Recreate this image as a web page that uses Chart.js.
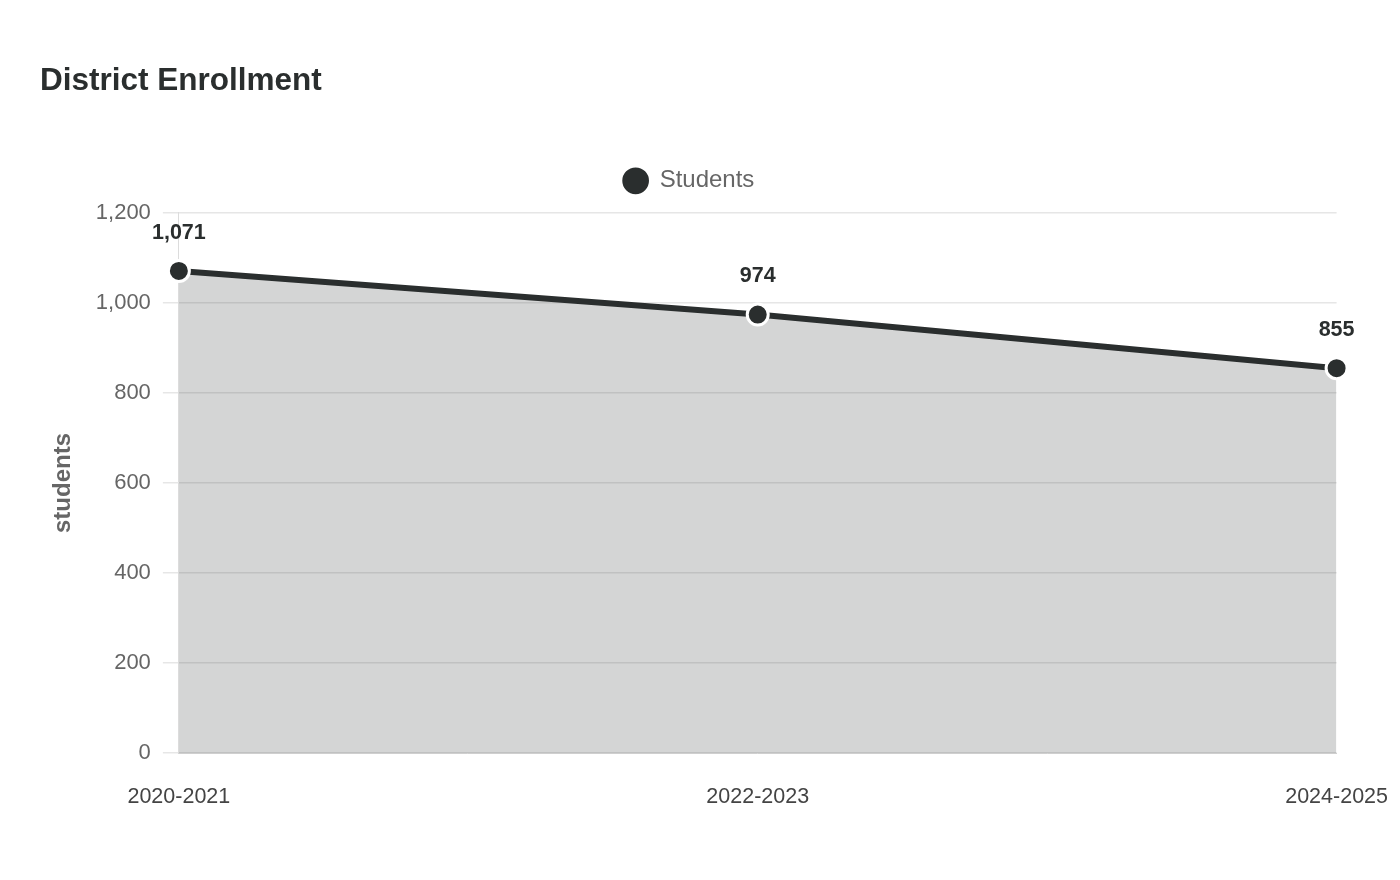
<!DOCTYPE html>
<html>
<head>
<meta charset="utf-8">
<script src="https://cdn.jsdelivr.net/npm/chart.js@4"></script>
<style>
    html, body { margin: 0; padding: 0; background: #fff; }
    #wrap { width: 1400px; height: 880px; }
</style>
</head>
<body>
<div id="wrap"><canvas id="enrollmentChart" width="1400" height="880"></canvas></div>
<script>
const years = ['2020-2021', '2022-2023', '2024-2025'];
const students = [1071, 974, 855];
const yTicks = [0, 200, 400, 600, 800, 1000, 1200];

const INK = '#2a2e2e';
const FONT = "'Liberation Sans', Arial, sans-serif";

// draws the value above each point
const pointLabels = {
    id: 'pointLabels',
    afterDatasetsDraw(chart) {
        const ctx = chart.ctx;
        const meta = chart.getDatasetMeta(0);
        ctx.save();
        ctx.font = `bold 21.5px ${FONT}`;
        ctx.fillStyle = INK;
        ctx.textAlign = 'center';
        ctx.textBaseline = 'middle';
        meta.data.forEach((pt, i) => {
            ctx.fillText(students[i].toLocaleString('en-US'), pt.x, pt.y - 38);
        });
        ctx.restore();
    }
};

// more room under the legend, and legend sits a little left of centre
const legendTweak = {
    id: 'legendTweak',
    beforeInit(chart) {
        const fit = chart.legend.fit;
        chart.legend.fit = function () {
            fit.call(this);
            this.height += 10;
        };
    },
    afterLayout(chart) {
        chart.legend.left -= 25;
        chart.legend.right -= 25;
    }
};

new Chart(document.getElementById('enrollmentChart').getContext('2d'), {
    type: 'line',
    data: {
        labels: years,
        datasets: [{
            label: 'Students',
            data: students,
            borderColor: INK,
            backgroundColor: INK,
            borderWidth: 6,
            fill: { target: 'origin', above: 'rgba(42, 46, 46, 0.2)' },
            pointRadius: 10.5,
            pointHoverRadius: 10.5,
            pointBackgroundColor: INK,
            pointBorderColor: '#fff',
            pointBorderWidth: 3,
            tension: 0
        }]
    },
    options: {
        responsive: false,
        animation: false,
        layout: { padding: { left: 40, right: 12, bottom: 58, top: 0 } },
        plugins: {
            title: {
                display: true,
                text: 'District Enrollment',
                align: 'start',
                color: INK,
                font: { family: FONT, size: 31.5, weight: 'bold' },
                padding: { top: 62, bottom: 59 }
            },
            legend: {
                labels: {
                    usePointStyle: true,
                    pointStyle: 'circle',
                    boxHeight: 21,
                    color: '#666',
                    font: { family: FONT, size: 24 },
                    padding: 10
                }
            },
            tooltip: { enabled: false }
        },
        scales: {
            x: {
                offset: false,
                grid: { display: true, drawOnChartArea: false, color: 'rgba(0,0,0,0)', tickLength: 19 },
                border: { display: true, color: '#cfcfcf' },
                ticks: {
                    color: '#444',
                    font: { family: FONT, size: 21.5 },
                    padding: 12,
                    maxRotation: 0
                }
            },
            y: {
                min: yTicks[0],
                max: yTicks[yTicks.length - 1],
                afterBuildTicks(scale) {
                    scale.ticks = yTicks.map(v => ({ value: v }));
                },
                grid: { color: '#e6e6e6', tickLength: 16, lineWidth: 1.5 },
                border: { display: true, color: '#dcdcdc' },
                ticks: {
                    color: '#666',
                    font: { family: FONT, size: 22 },
                    padding: 12,
                    callback: v => v.toLocaleString('en-US')
                },
                title: {
                    display: true,
                    text: 'students',
                    color: '#666',
                    font: { family: FONT, size: 24, weight: 'bold' },
                    padding: { top: 9, bottom: 6 }
                }
            }
        }
    },
    plugins: [pointLabels, legendTweak]
});
</script>
</body>
</html>
